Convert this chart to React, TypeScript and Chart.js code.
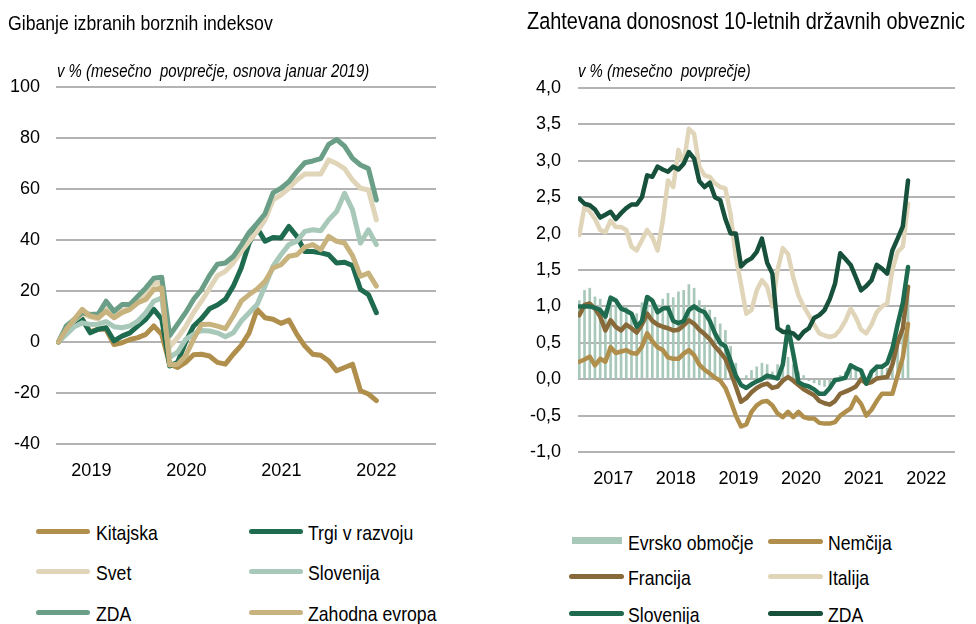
import React, { useEffect, useMemo, useRef } from 'react';
import { Chart, registerables } from 'chart.js';

Chart.register(...registerables);

// ---------- Left chart: selected stock indices, monthly, Jan 2019 (index 0) .. May 2022
const stockYearLabels = ['2019', '2020', '2021', '2022'];
const stockYearTickMonths = [4.15, 16.1, 28.05, 40];

const kitajska = [0, 4, 7, 9, 4, 5, 5, -1, -0.3, 1, 1.7, 3, 6.3, 3, -8.7, -10, -8, -5, -4.8, -5.5, -8, -8.7, -4.8, -1.3, 3.6, 12.8, 9.5, 8.9, 7.3, 8.6, 3, -1.6, -4.8, -5.2, -7.4, -11.3, -10, -8.7, -19.1, -20.4, -23];
const trgiVRazvoju = [0, 4, 7, 8.9, 3.6, 5, 5.6, 0.4, 2.3, 3.6, 6.3, 8.9, 12.8, 9, -9.4, -8, 0, 6.2, 9.2, 13, 14.5, 16.7, 21.9, 29, 38.8, 44.7, 39.5, 41, 40.8, 45.3, 41.4, 35.5, 35.5, 35, 34.2, 31, 31.3, 30, 20.6, 18.6, 11.5];
const svet = [0, 5.5, 8.5, 11, 10, 9, 13, 10, 12.5, 13, 16.5, 19, 23, 23, -2, 1.7, 6, 11.5, 16, 21, 26, 27.7, 31, 35.5, 39.5, 43.4, 47.9, 55.7, 57.7, 60.3, 63.5, 65.9, 65.9, 65.9, 71.4, 70, 68, 63.5, 60.3, 59.6, 47.9];
const slovenijaIdx = [0, 3, 6, 7.5, 6.9, 7, 8, 6, 5.6, 6.3, 8.2, 11.5, 16, 17.3, -6, -4, 1, 3, 4.5, 4.3, 3.6, 2.1, 3.6, 8.2, 11.5, 14.7, 21.9, 29.7, 34.2, 38.2, 39.5, 43.4, 44, 43.6, 47.9, 51.2, 58.3, 51.8, 38.8, 44, 38.2];
const zdaIdx = [0, 6.3, 8.9, 11.5, 10.8, 11, 16, 12, 14.7, 14.7, 18, 21.2, 25, 25.4, 2.5, 7, 11.5, 16.7, 20.5, 26, 30.5, 31, 33.5, 38, 43, 46.5, 50.3, 58.5, 60.3, 62.9, 66.8, 70.3, 71, 71.9, 77.5, 79.4, 76.8, 72, 69.4, 68, 55.7];
const zahodnaEvropa = [0, 5, 8.9, 12.8, 10.2, 9.5, 12, 9.5, 11.5, 12.8, 15.4, 16.7, 20.6, 21.2, -9, -8.7, -5.5, 1, 6.9, 7, 6.2, 5.2, 10.2, 16, 18.6, 20.8, 23.8, 29, 30.3, 33.6, 34.2, 37.2, 38.2, 36.2, 41.4, 39.5, 38.8, 33.9, 25.8, 27, 21.9];

// ---------- Right chart: 10-year government bond yields, monthly, Jan 2017 (index 0) .. Apr 2022
const yieldYearLabels = ['2017', '2018', '2019', '2020', '2021', '2022'];
const yieldYearTickMonths = [6.5, 18.5, 30.5, 42.5, 54.5, 66.5];

const evrskoObmocje = [1.08, 1.22, 1.25, 1.13, 1.1, 0.95, 1.1, 1.02, 0.98, 1.0, 0.92, 0.9, 1.05, 1.15, 1.08, 1.02, 1.1, 1.18, 1.12, 1.2, 1.22, 1.3, 1.25, 1.08, 1.0, 0.95, 0.85, 0.76, 0.67, 0.45, 0.22, 0.0, 0.05, 0.12, 0.17, 0.22, 0.2, 0.1, 0.2, 0.28, 0.3, 0.2, 0.1, 0.05, -0.02, -0.05, -0.08, -0.1, -0.1, -0.05, 0.05, 0.1, 0.2, 0.15, 0.12, 0.0, 0.1, 0.2, 0.2, 0.15, 0.35, 0.6, 0.75, 1.2];
const nemcija = [0.24, 0.27, 0.31, 0.19, 0.28, 0.24, 0.44, 0.36, 0.38, 0.4, 0.36, 0.35, 0.45, 0.63, 0.52, 0.44, 0.4, 0.3, 0.28, 0.28, 0.35, 0.4, 0.33, 0.2, 0.13, 0.08, 0.02, -0.02, -0.12, -0.3, -0.5, -0.65, -0.62, -0.45, -0.36, -0.31, -0.3, -0.36, -0.47, -0.52, -0.45, -0.52, -0.45, -0.52, -0.54, -0.54, -0.6, -0.61, -0.61, -0.59, -0.5, -0.45, -0.4, -0.25, -0.34, -0.5, -0.42, -0.3, -0.2, -0.2, -0.2, 0.05, 0.3, 0.76];
const francija = [0.88, 1.02, 1.04, 0.97, 0.86, 0.67, 0.81, 0.72, 0.67, 0.75, 0.7, 0.64, 0.75, 0.9, 0.8, 0.75, 0.72, 0.7, 0.67, 0.68, 0.74, 0.81, 0.76, 0.68, 0.62, 0.55, 0.45, 0.37, 0.28, 0.1, -0.1, -0.31, -0.26, -0.18, -0.12, -0.08, -0.06, -0.12, -0.1, -0.02, 0.03, -0.02, -0.08, -0.14, -0.18, -0.22, -0.3, -0.33, -0.35, -0.3, -0.2, -0.17, -0.14, -0.1, 0.0, -0.06, -0.04, 0.01, 0.02, 0.03, 0.2, 0.5, 0.7, 1.27];
const italija = [1.98, 2.37, 2.3, 2.2, 2.05, 2.02, 2.18, 2.09, 2.09, 2.05, 1.82, 1.77, 1.91, 2.05, 1.95, 1.77, 2.18, 2.73, 2.64, 3.15, 2.96, 3.44, 3.37, 2.92, 2.8, 2.78, 2.69, 2.64, 2.62, 2.26, 1.68, 1.3, 0.9, 0.95, 1.22, 1.36, 1.27, 1.0, 1.5, 1.8, 1.72, 1.4, 1.15, 1.0, 0.88, 0.75, 0.63, 0.6, 0.58, 0.6, 0.68, 0.8, 0.97, 0.85, 0.68, 0.63, 0.75, 0.92, 1.0, 1.04, 1.5, 1.75, 1.82, 2.41];
const slovenijaYld = [1.0, 1.0, 1.0, 0.98, 0.95, 0.86, 1.12, 1.08, 0.97, 0.94, 0.9, 0.72, 0.8, 1.13, 1.08, 0.92, 0.97, 0.98, 0.8, 0.77, 0.8, 0.95, 1.0, 0.95, 0.92, 0.8, 0.63, 0.5, 0.45, 0.25, 0.05, -0.08, -0.12, -0.07, -0.03, 0.0, 0.05, 0.03, 0.01, 0.2, 0.72, 0.35, -0.04, -0.08, -0.1, -0.14, -0.2, -0.2, -0.12, -0.01, 0.0, 0.02, 0.19, 0.15, 0.12, -0.06, 0.1, 0.17, 0.17, 0.22, 0.42, 0.75, 1.05, 1.54];
const zdaYld = [2.48, 2.41, 2.39, 2.33, 2.22, 2.26, 2.3, 2.2, 2.28, 2.35, 2.4, 2.4, 2.5, 2.8, 2.78, 2.92, 2.88, 2.85, 2.92, 2.88, 2.96, 3.12, 3.03, 2.72, 2.64, 2.7, 2.5, 2.46, 2.2, 2.0, 2.0, 1.55, 1.62, 1.66, 1.75, 1.93, 1.6, 1.45, 0.7, 0.65, 0.65, 0.63, 0.56, 0.65, 0.7, 0.84, 0.88, 0.95, 1.1, 1.31, 1.73, 1.65, 1.57, 1.4, 1.22, 1.28, 1.36, 1.57, 1.52, 1.45, 1.77, 1.93, 2.1, 2.73];

// ---------- colours
const C_GOLD = '#b08f4c';
const C_DKGREEN = '#1e6b4f';
const C_BEIGE = '#e0d5b8';
const C_SAGE = '#a8c8b9';
const C_GREYGREEN = '#6a9e87';
const C_TAN = '#c8b37e';
const C_BROWN = '#88693a';
const C_DEEPGREEN = '#17513b';
const C_GRID = '#b3b3b3';

const NARROW = '"Liberation Sans Narrow", "Arial Narrow"';
const REGULAR = '"Liberation Sans", Arial, sans-serif';

function detectNarrow(): boolean {
  try {
    const ctx = document.createElement('canvas').getContext('2d');
    if (!ctx) return false;
    const t = 'Gibanje izbranih borznih 0123456789';
    ctx.font = '20px monospace';
    const a = ctx.measureText(t).width;
    ctx.font = '20px "Liberation Sans Narrow", monospace';
    const b = ctx.measureText(t).width;
    return Math.abs(a - b) > 0.5;
  } catch (e) {
    return false;
  }
}

const pts = (arr: number[]) => arr.map((y, x) => ({ x, y }));

function lineDs(label: string, data: number[], color: string, order: number, width: number) {
  return {
    type: 'line' as const,
    label,
    data: pts(data),
    borderColor: color,
    backgroundColor: color,
    borderWidth: width,
    pointRadius: 0,
    pointHoverRadius: 0,
    tension: 0,
    fill: false,
    order,
    borderJoinStyle: 'round' as const,
    borderCapStyle: 'round' as const,
  };
}

export default function App() {
  const leftRef = useRef<HTMLCanvasElement>(null);
  const rightRef = useRef<HTMLCanvasElement>(null);
  const narrow = useMemo(() => detectNarrow(), []);
  const fam = narrow ? NARROW + ', ' + REGULAR : REGULAR;
  const k = narrow ? 1 : 0.84;

  useEffect(() => {
    const tickFont = { family: fam, size: Math.round(21 * k) };

    const left = new Chart(leftRef.current as HTMLCanvasElement, {
      type: 'line',
      data: {
        datasets: [
          lineDs('Zahodna evropa', zahodnaEvropa, C_TAN, 1, 5),
          lineDs('ZDA', zdaIdx, C_GREYGREEN, 2, 5),
          lineDs('Slovenija', slovenijaIdx, C_SAGE, 3, 5),
          lineDs('Svet', svet, C_BEIGE, 4, 5),
          lineDs('Trgi v razvoju', trgiVRazvoju, C_DKGREEN, 5, 5),
          lineDs('Kitajska', kitajska, C_GOLD, 6, 5),
        ],
      },
      options: {
        responsive: false,
        animation: false,
        events: [],
        layout: { padding: { top: 87, left: 0, right: 44, bottom: 16 } },
        plugins: { legend: { display: false }, tooltip: { enabled: false }, title: { display: false } },
        scales: {
          x: {
            type: 'linear',
            min: -0.3,
            max: 47.5,
            offset: false,
            grid: { display: false, drawTicks: false },
            border: { display: false },
            ticks: {
              font: tickFont,
              color: '#000',
              padding: 16,
              maxRotation: 0,
              autoSkip: false,
              callback: (_v: any, i: number) => stockYearLabels[i],
            },
            afterBuildTicks: (s: any) => {
              s.ticks = stockYearTickMonths.map((v) => ({ value: v }));
            },
            afterFit: (s: any) => {
              s.height = 40;
            },
          },
          y: {
            min: -40,
            max: 100,
            ticks: { stepSize: 20, font: tickFont, color: '#000', padding: 16 },
            grid: { color: C_GRID, lineWidth: 2, drawTicks: false },
            border: { display: false },
            afterFit: (s: any) => {
              s.width = 56;
            },
          },
        },
      },
    } as any);

    const right = new Chart(rightRef.current as HTMLCanvasElement, {
      type: 'line',
      data: {
        datasets: [
          lineDs('ZDA', zdaYld, C_DEEPGREEN, 1, 4.5),
          lineDs('Slovenija', slovenijaYld, C_DKGREEN, 2, 4.5),
          lineDs('Italija', italija, C_BEIGE, 3, 4.5),
          lineDs('Francija', francija, C_BROWN, 4, 4.5),
          lineDs('Nemčija', nemcija, C_GOLD, 5, 4.5),
          {
            type: 'bar',
            label: 'Evrsko območje',
            data: pts(evrskoObmocje),
            backgroundColor: C_SAGE,
            borderWidth: 0,
            barThickness: 2,
            order: 6,
          },
        ],
      },
      options: {
        responsive: false,
        animation: false,
        events: [],
        layout: { padding: { top: 88, left: 0, right: 21, bottom: 8 } },
        plugins: { legend: { display: false }, tooltip: { enabled: false }, title: { display: false } },
        scales: {
          x: {
            type: 'linear',
            min: -0.25,
            max: 72,
            offset: false,
            grid: { display: false, drawTicks: false, offset: false },
            border: { display: false },
            ticks: {
              font: tickFont,
              color: '#000',
              padding: 16,
              maxRotation: 0,
              autoSkip: false,
              callback: (_v: any, i: number) => yieldYearLabels[i],
            },
            afterBuildTicks: (s: any) => {
              s.ticks = yieldYearTickMonths.map((v) => ({ value: v }));
            },
            afterFit: (s: any) => {
              s.height = 40;
            },
          },
          y: {
            min: -1,
            max: 4,
            ticks: {
              stepSize: 0.5,
              font: tickFont,
              color: '#000',
              padding: 17,
              callback: (v: any) => Number(v).toFixed(1).replace('.', ','),
            },
            grid: { color: C_GRID, lineWidth: 2, drawTicks: false },
            border: { display: false },
            afterFit: (s: any) => {
              s.width = 90;
            },
          },
        },
      },
    } as any);

    return () => {
      left.destroy();
      right.destroy();
    };
  }, [fam, k]);

  const textBase: React.CSSProperties = {
    position: 'absolute',
    fontFamily: fam,
    color: '#000',
    whiteSpace: 'pre',
    lineHeight: 1,
    transformOrigin: 'left center',
    transform: narrow ? undefined : 'scaleX(0.84)',
  };

  const Text = ({ x, cy, size, italic, children }: any) => (
    <div
      style={{
        ...textBase,
        left: x,
        top: cy - size / 2,
        fontSize: size,
        height: size,
        fontStyle: italic ? 'italic' : 'normal',
      }}
    >
      {children}
    </div>
  );

  const LineSwatch = ({ x, cy, w, color }: any) => (
    <div
      style={{
        position: 'absolute',
        left: x,
        top: cy - 2.5,
        width: w,
        height: 5,
        borderRadius: 2.5,
        background: color,
      }}
    />
  );

  const BoxSwatch = ({ x, cy, w, color }: any) => (
    <div style={{ position: 'absolute', left: x, top: cy - 3.5, width: w, height: 7, background: color }} />
  );

  const leftLegend = [
    { label: 'Kitajska', color: C_GOLD },
    { label: 'Trgi v razvoju', color: C_DKGREEN },
    { label: 'Svet', color: C_BEIGE },
    { label: 'Slovenija', color: C_SAGE },
    { label: 'ZDA', color: C_GREYGREEN },
    { label: 'Zahodna evropa', color: C_TAN },
  ];
  const leftRows = [531, 571, 612];
  const leftCols = [
    { line: 36, text: 96 },
    { line: 249, text: 308 },
  ];

  const rightLegend = [
    { label: 'Evrsko območje', color: C_SAGE, bar: true },
    { label: 'Nemčija', color: C_GOLD },
    { label: 'Francija', color: C_BROWN },
    { label: 'Italija', color: C_BEIGE },
    { label: 'Slovenija', color: C_DKGREEN },
    { label: 'ZDA', color: C_DEEPGREEN },
  ];
  const rightRows = [541, 576, 613];
  const rightCols = [
    { line: 569, text: 628 },
    { line: 768, text: 828 },
  ];

  return (
    <div
      style={{
        position: 'absolute',
        left: 0,
        top: 0,
        width: 976,
        height: 624,
        overflow: 'hidden',
        background: '#fff',
      }}
    >
      <canvas
        ref={leftRef}
        width={480}
        height={500}
        style={{ position: 'absolute', left: 0, top: 0, width: 480, height: 500 }}
      />
      <canvas
        ref={rightRef}
        width={488}
        height={500}
        style={{ position: 'absolute', left: 488, top: 0, width: 488, height: 500 }}
      />

      <Text x={8} cy={22} size={21}>Gibanje izbranih borznih indeksov</Text>
      <Text x={527} cy={22} size={23.7}>Zahtevana donosnost 10-letnih državnih obveznic</Text>
      <Text x={57} cy={72} size={17.8} italic>v % (mesečno  povprečje, osnova januar 2019)</Text>
      <Text x={578} cy={72} size={17.8} italic>v % (mesečno  povprečje)</Text>

      {leftLegend.map((it, i) => {
        const r = Math.floor(i / 2);
        const c = leftCols[i % 2];
        return (
          <React.Fragment key={'l' + i}>
            <LineSwatch x={c.line} cy={leftRows[r]} w={54} color={it.color} />
            <Text x={c.text} cy={leftRows[r] + 1} size={21}>{it.label}</Text>
          </React.Fragment>
        );
      })}

      {rightLegend.map((it: any, i) => {
        const r = Math.floor(i / 2);
        const c = rightCols[i % 2];
        return (
          <React.Fragment key={'r' + i}>
            {it.bar ? (
              <BoxSwatch x={c.line + 3} cy={rightRows[r] - 1} w={50} color={it.color} />
            ) : (
              <LineSwatch x={c.line} cy={rightRows[r]} w={55} color={it.color} />
            )}
            <Text x={c.text} cy={rightRows[r] + 1} size={21}>{it.label}</Text>
          </React.Fragment>
        );
      })}
    </div>
  );
}
